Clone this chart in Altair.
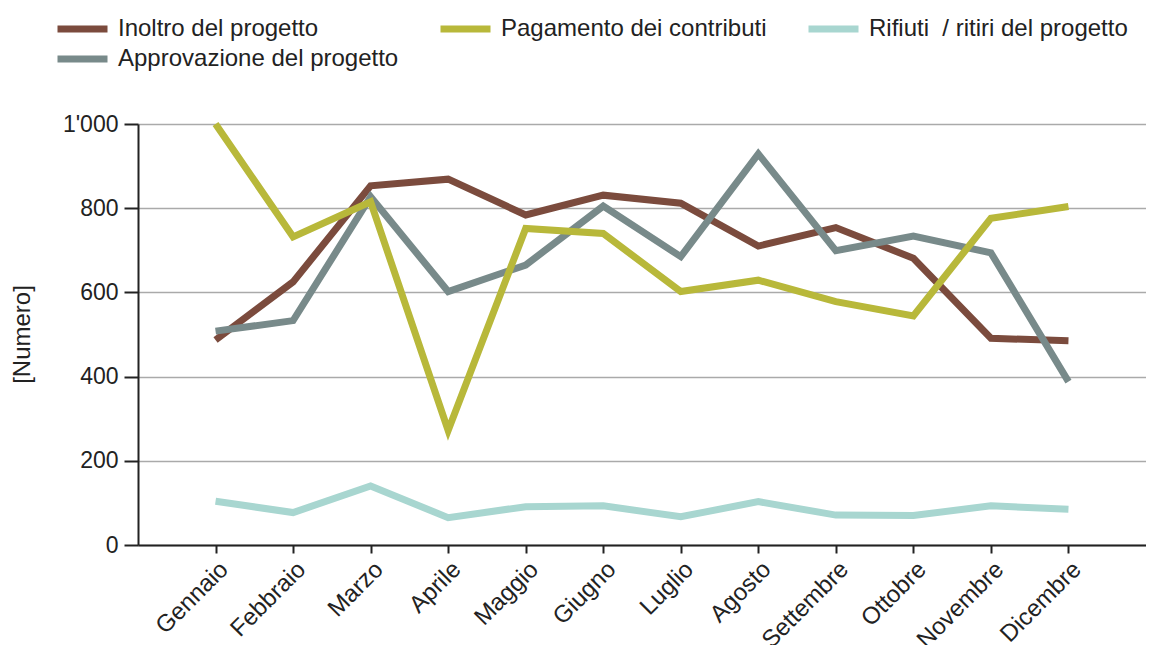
import altair as alt
import pandas as pd

months = ["Gennaio", "Febbraio", "Marzo", "Aprile", "Maggio", "Giugno",
          "Luglio", "Agosto", "Settembre", "Ottobre", "Novembre", "Dicembre"]

inoltro = [487, 625, 853, 869, 784, 831, 812, 710, 754, 681, 491, 485]
approvazione = [508, 533, 827, 602, 665, 805, 685, 929, 699, 734, 694, 388]
pagamento = [1000, 732, 815, 272, 752, 740, 602, 629, 578, 544, 776, 804]
rifiuti = [104, 77, 140, 65, 91, 93, 67, 103, 71, 70, 93, 85]

series_names = ["Inoltro del progetto", "Approvazione del progetto",
                "Pagamento dei contributi", "Rifiuti\u00a0 / ritiri del progetto"]
series_values = [inoltro, approvazione, pagamento, rifiuti]

legend_order = ["Inoltro del progetto", "Pagamento dei contributi",
                "Rifiuti\u00a0 / ritiri del progetto", "Approvazione del progetto"]
legend_colors = ["#7b4b3d", "#b8b83a", "#a8d6d0", "#788a8a"]

y_ticks = [0, 200, 400, 600, 800, 1000]

rows = []
for si, (name, vals) in enumerate(zip(series_names, series_values)):
    for mi, (m, v) in enumerate(zip(months, vals)):
        rows.append({"Mese": m, "Valore": v, "Serie": name, "ord": si, "mi": mi})
df = pd.DataFrame(rows)

FONT = "Liberation Sans"

chart = alt.Chart(df).mark_line(strokeWidth=7, strokeJoin="miter", strokeCap="butt").encode(
    x=alt.X("Mese:N", sort=months, title=None,
            scale=alt.Scale(type="point", padding=1),
            axis=alt.Axis(labelAngle=315, labelFontSize=24, labelColor="#222222",
                          labelFont=FONT, tickSize=8, tickWidth=2, tickColor="#222222",
                          domainColor="#222222", domainWidth=2, labelPadding=4,
                          grid=False)),
    y=alt.Y("Valore:Q", title="[Numero]",
            scale=alt.Scale(domain=[0, 1000], nice=False),
            axis=alt.Axis(values=y_ticks,
                          labelExpr="replace(format(datum.value, ','), ',', \"'\")",
                          labelFontSize=23, labelColor="#222222", labelFont=FONT,
                          tickSize=14, tickWidth=2, tickColor="#222222",
                          domainColor="#222222", domainWidth=2, labelPadding=6,
                          grid=True, gridColor="#aaaaaa", gridWidth=1.5,
                          titleFont=FONT, titleFontSize=24, titleFontWeight="normal",
                          titleColor="#222222", titleAngle=270, titleX=-116, titleY=210,
                          titleAlign="center", titleBaseline="middle")),
    color=alt.Color("Serie:N",
                    scale=alt.Scale(domain=legend_order, range=legend_colors),
                    legend=alt.Legend(orient="none", legendX=-84, legendY=-108,
                                      columns=3, columnPadding=38, rowPadding=4,
                                      clipHeight=26,
                                      symbolType="stroke", symbolSize=2500,
                                      symbolStrokeWidth=7, labelFontSize=24,
                                      labelFont=FONT, labelColor="#222222",
                                      labelLimit=500, labelOffset=7, title=None,
                                      direction="horizontal")),
    order=alt.Order("mi:Q"),
    detail="ord:N",
).properties(
    width=1008, height=421,
    padding={"left": 130, "top": 116, "right": 0, "bottom": 100},
    autosize=alt.AutoSizeParams(type="none"),
).configure_view(stroke=None).configure(background="white")

chart.save("out.html", embed_options={"renderer": "svg", "actions": False})
